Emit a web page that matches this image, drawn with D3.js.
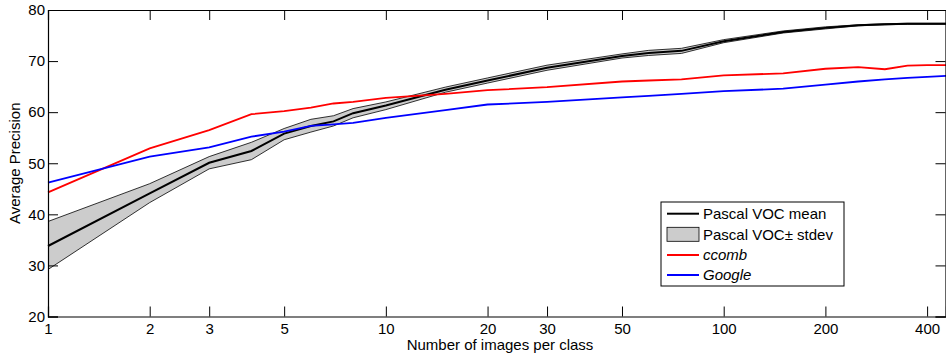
<!DOCTYPE html>
<html>
<head>
<meta charset="utf-8">
<script src="https://cdn.jsdelivr.net/npm/d3@7"></script>
<style>
  body { margin: 0; background: #fff; }
  svg { display: block; font-family: "Liberation Sans", Arial, sans-serif; }
</style>
</head>
<body>
<div id="chart"></div>
<script>
// x values (images per class)
var nImages = [1, 2, 3, 4, 5, 6, 7, 8, 10, 15, 20, 30, 50, 60, 75, 100, 150, 200, 250, 300, 350, 400, 455];
// Pascal VOC mean and +/- stdev
var vocMean  = [33.8, 44.1, 50.1, 52.4, 55.8, 57.3, 58.2, 59.8, 61.3, 64.4, 66.2, 68.7, 71.0, 71.6, 72.0, 73.9, 75.7, 76.5, 77.0, 77.2, 77.3, 77.3, 77.3];
var vocUpper = [38.6, 46.0, 51.3, 54.1, 56.8, 58.6, 59.3, 60.7, 62.0, 64.9, 66.7, 69.2, 71.4, 72.1, 72.5, 74.2, 75.9, 76.7, 77.1, 77.3, 77.4, 77.4, 77.4];
var vocLower = [29.2, 42.3, 48.9, 50.7, 54.6, 56.1, 57.3, 58.9, 60.5, 63.9, 65.7, 68.2, 70.6, 71.1, 71.5, 73.6, 75.5, 76.3, 76.9, 77.1, 77.2, 77.2, 77.2];
var ccomb    = [44.3, 52.9, 56.5, 59.6, 60.2, 60.9, 61.7, 62.0, 62.8, 63.6, 64.3, 64.9, 66.0, 66.2, 66.4, 67.2, 67.6, 68.5, 68.8, 68.4, 69.1, 69.2, 69.2];
var google   = [46.2, 51.3, 53.1, 55.2, 56.2, 57.3, 57.6, 57.9, 58.9, 60.4, 61.5, 62.0, 62.9, 63.2, 63.6, 64.1, 64.6, 65.4, 66.0, 66.4, 66.7, 66.9, 67.1];

var xTicks = [1, 2, 3, 5, 10, 20, 30, 50, 100, 200, 400];
var yTicks = [20, 30, 40, 50, 60, 70, 80];

var width = 946, height = 353;
var plotL = 48, plotR = 946, plotT = 10, plotB = 316.5;
var fs = 15;

var svg = d3.select('#chart').append('svg')
  .attr('width', width)
  .attr('height', height);

var x = d3.scaleLog().domain([1, 455]).range([plotL, plotR]);
var y = d3.scaleLinear().domain([20, 80]).range([plotB, plotT]);

var rows = nImages.map(function (n, i) {
  return { n: n, mean: vocMean[i], up: vocUpper[i], lo: vocLower[i], cc: ccomb[i], gg: google[i] };
});

// stdev band
var band = d3.area()
  .x(function (d) { return x(d.n); })
  .y0(function (d) { return y(d.lo); })
  .y1(function (d) { return y(d.up); });
svg.append('path').datum(rows)
  .attr('d', band)
  .attr('fill', '#cccccc')
  .attr('stroke', 'none');

function lineOf(key) {
  return d3.line().x(function (d) { return x(d.n); }).y(function (d) { return y(d[key]); });
}
svg.append('path').datum(rows).attr('d', lineOf('up'))
  .attr('fill', 'none').attr('stroke', '#000').attr('stroke-width', 0.8);
svg.append('path').datum(rows).attr('d', lineOf('lo'))
  .attr('fill', 'none').attr('stroke', '#000').attr('stroke-width', 0.8);
svg.append('path').datum(rows).attr('d', lineOf('mean'))
  .attr('fill', 'none').attr('stroke', '#000').attr('stroke-width', 2);
svg.append('path').datum(rows).attr('d', lineOf('cc'))
  .attr('fill', 'none').attr('stroke', '#ff0000').attr('stroke-width', 1.8);
svg.append('path').datum(rows).attr('d', lineOf('gg'))
  .attr('fill', 'none').attr('stroke', '#0000ff').attr('stroke-width', 1.8);

// axes (MATLAB style: inward ticks on all four sides)
var tickLen = 10;
var xBottom = svg.append('g').attr('transform', 'translate(0,' + plotB + ')')
  .call(d3.axisBottom(x).tickValues(xTicks).tickFormat(d3.format('d')).tickSize(-tickLen).tickPadding(5));
var xTop = svg.append('g').attr('transform', 'translate(0,' + plotT + ')')
  .call(d3.axisTop(x).tickValues(xTicks).tickFormat('').tickSize(-tickLen));
var yLeft = svg.append('g').attr('transform', 'translate(' + plotL + ',0)')
  .call(d3.axisLeft(y).tickValues(yTicks).tickSize(-tickLen).tickPadding(3));
var yRight = svg.append('g').attr('transform', 'translate(' + (plotR - 0.5) + ',0)')
  .call(d3.axisRight(y).tickValues(yTicks).tickFormat('').tickSize(-tickLen));

[xBottom, xTop, yLeft, yRight].forEach(function (g) {
  g.select('.domain').attr('stroke', '#000').attr('stroke-width', 1.2);
  g.selectAll('.tick line').attr('stroke', '#000');
  g.selectAll('text').attr('font-size', fs).attr('fill', '#000')
    .attr('font-family', '"Liberation Sans", Arial, sans-serif');
});
xBottom.selectAll('text').attr('dy', '0.85em');

// axis titles
svg.append('text')
  .attr('x', 500).attr('y', 350)
  .attr('text-anchor', 'middle')
  .attr('font-size', fs)
  .text('Number of images per class');
svg.append('text')
  .attr('transform', 'translate(20,' + ((plotT + plotB) / 2) + ') rotate(-90)')
  .attr('text-anchor', 'middle')
  .attr('font-size', fs)
  .text('Average Precision');

// legend
var lg = svg.append('g').attr('transform', 'translate(661,202)');
lg.append('rect').attr('width', 183).attr('height', 84)
  .attr('fill', '#fff').attr('stroke', '#000').attr('stroke-width', 1);
var items = [
  { label: 'Pascal VOC mean', kind: 'line', color: '#000', italic: false },
  { label: 'Pascal VOC\u00b1 stdev', kind: 'band', color: '#000', italic: false },
  { label: 'ccomb', kind: 'line', color: '#ff0000', italic: true },
  { label: 'Google', kind: 'line', color: '#0000ff', italic: true }
];
var rowY = [11.7, 32.3, 53, 73];
items.forEach(function (it, i) {
  var cy = rowY[i];
  if (it.kind === 'band') {
    lg.append('rect').attr('x', 6).attr('y', cy - 7).attr('width', 32).attr('height', 14)
      .attr('fill', '#cccccc').attr('stroke', '#000').attr('stroke-width', 0.8);
  } else {
    lg.append('line').attr('x1', 6).attr('x2', 38).attr('y1', cy).attr('y2', cy)
      .attr('stroke', it.color).attr('stroke-width', 2);
  }
  lg.append('text').attr('x', 42).attr('y', cy).attr('dy', '0.35em')
    .attr('font-size', fs)
    .attr('font-style', it.italic ? 'italic' : 'normal')
    .text(it.label);
});
</script>
</body>
</html>
